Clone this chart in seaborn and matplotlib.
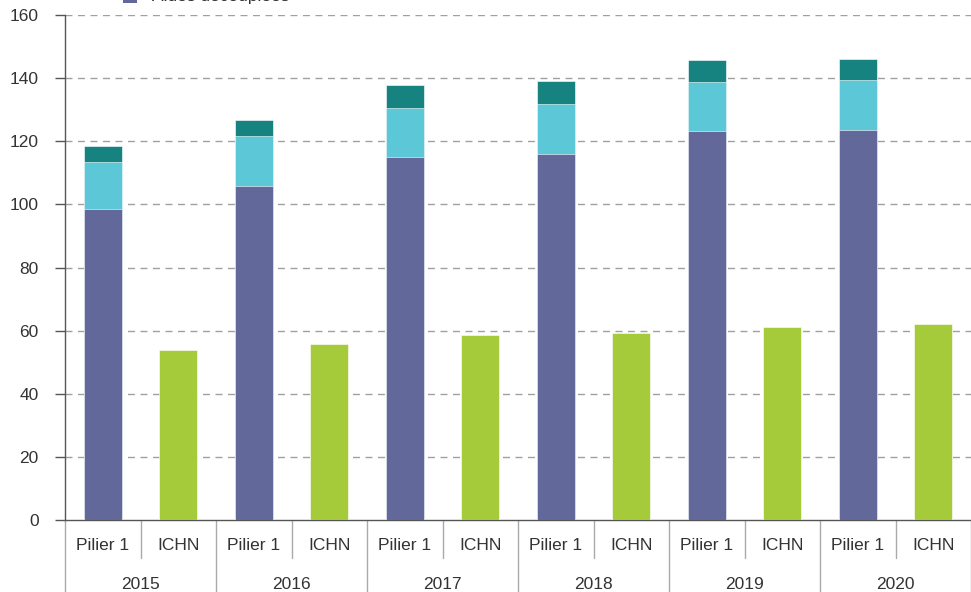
import matplotlib
matplotlib.use("Agg")
import matplotlib.pyplot as plt
import matplotlib.transforms as mtransforms
from matplotlib.patches import Rectangle
import seaborn as sns
import pandas as pd

years = ["2015", "2016", "2017", "2018", "2019", "2020"]
groups = ["Pilier 1", "ICHN"]
aides_decouplees = [98.4, 105.7, 115.1, 116.1, 123.4, 123.5]
second_layer = [15.0, 15.9, 15.4, 15.7, 15.4, 15.9]
third_layer = [5.0, 5.1, 7.4, 7.3, 7.0, 6.8]
ichn = [53.9, 55.8, 58.6, 59.3, 61.2, 62.1]
yticks = [0, 20, 40, 60, 80, 100, 120, 140, 160]

c_purple = "#62689A"
c_light = "#5CC8D7"
c_teal = "#168380"
c_green = "#A5CB3B"
txt = "#333333"

sns.set_theme(style="white")
plt.rcParams["font.family"] = ["Liberation Sans", "DejaVu Sans"]

cats = [f"{y} {g}" for y in years for g in groups]
p1 = [f"{y} Pilier 1" for y in years]
ic = [f"{y} ICHN" for y in years]

lvl1 = aides_decouplees
lvl2 = [a + b for a, b in zip(lvl1, second_layer)]
lvl3 = [a + b for a, b in zip(lvl2, third_layer)]

fig = plt.figure(figsize=(9.71, 5.92), dpi=100)
ax = fig.add_axes([65 / 971, 72 / 592, 906 / 971, 505 / 592])

for vals, col in [(lvl3, c_teal), (lvl2, c_light), (lvl1, c_purple)]:
    df = pd.DataFrame({"cat": p1, "val": vals})
    sns.barplot(data=df, x="cat", y="val", order=cats, color=col, width=0.5,
                saturation=1, edgecolor="white", linewidth=0.4, ax=ax, zorder=3)
df = pd.DataFrame({"cat": ic, "val": ichn})
sns.barplot(data=df, x="cat", y="val", order=cats, color=c_green, width=0.5,
            saturation=1, edgecolor="white", linewidth=0.4, ax=ax, zorder=3)

ax.set_xlim(-0.5, 11.5)
ax.set_ylim(0, 160)
ax.set_yticks(yticks)
ax.set_yticklabels([str(t) for t in yticks], fontsize=12.5, color=txt)
ax.set_xticks([])
ax.set_xlabel("")
ax.set_ylabel("")
for t in yticks[1:]:
    ax.axhline(t, color="#A0A0A0", linestyle=(0, (5, 4)), linewidth=1, zorder=1)

for s in ["top", "right"]:
    ax.spines[s].set_visible(False)
ax.spines["left"].set_color("#555555")
ax.spines["bottom"].set_color("#555555")
ax.spines["left"].set_linewidth(1)
ax.spines["bottom"].set_linewidth(1)
ax.tick_params(axis="y", direction="out", length=7, width=1, color="#555555", pad=12, left=True)

trans = mtransforms.blended_transform_factory(ax.transData, ax.transAxes)
for i, y in enumerate(years):
    ax.text(2 * i, -0.05, "Pilier 1", transform=trans, ha="center", va="center",
            fontsize=12.5, color=txt)
    ax.text(2 * i + 1, -0.05, "ICHN", transform=trans, ha="center", va="center",
            fontsize=12.5, color=txt)
    ax.text(2 * i + 0.5, -0.128, y, transform=trans, ha="center", va="center",
            fontsize=12.5, color=txt)
    ax.plot([2 * i + 0.5, 2 * i + 0.5], [0, -0.075], transform=trans, color="#AAAAAA",
            linewidth=1, clip_on=False)
for k in range(7):
    xk = 2 * k - 0.5
    ax.plot([xk, xk], [0, -0.16], transform=trans, color="#AAAAAA", linewidth=1, clip_on=False)

fig.patches.append(Rectangle((123 / 971, 589 / 592), 14 / 971, 14 / 592,
                             transform=fig.transFigure, facecolor=c_purple,
                             edgecolor="none", figure=fig))
fig.text(152 / 971, 1 + 4 / 592, "Aides découplées", ha="left", va="center",
         fontsize=12.5, color=txt)

fig.savefig("out.png", dpi=100)
